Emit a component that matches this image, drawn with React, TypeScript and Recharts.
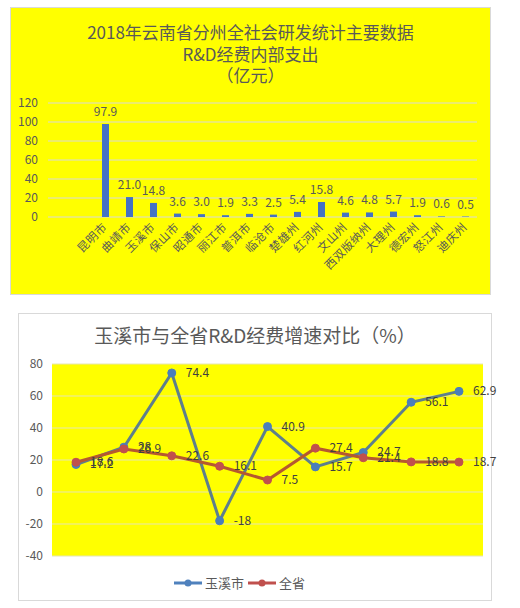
import React from 'react';
import {
  BarChart, Bar, XAxis, YAxis, CartesianGrid, LabelList,
  LineChart, Line, Legend,
} from 'recharts';

// ---- Chart 1 data ----
const regions = ['昆明市', '曲靖市', '玉溪市', '保山市', '昭通市', '丽江市', '普洱市', '临沧市', '楚雄州', '红河州', '文山州', '西双版纳州', '大理州', '德宏州', '怒江州', '迪庆州'];
const rdSpending = [97.9, 21.0, 14.8, 3.6, 3.0, 1.9, 3.3, 2.5, 5.4, 15.8, 4.6, 4.8, 5.7, 1.9, 0.6, 0.5];
const barTicks = [0, 20, 40, 60, 80, 100, 120];

// ---- Chart 2 data ----
const years = ['2010年', '2011年', '2012年', '2013年', '2014年', '2015年', '2016年', '2017年', '2018年'];
const yuxiGrowth = [17.2, 28.0, 74.4, -18, 40.9, 15.7, 24.7, 56.1, 62.9];
const provinceGrowth = [18.6, 26.9, 22.6, 16.1, 7.5, 27.4, 21.4, 18.8, 18.7];
const lineTicks = [-40, -20, 0, 20, 40, 60, 80];

const barData = regions.map((name, i) => ({ name, value: rdSpending[i] }));
const lineData = years.map((year, i) => ({ year, yuxi: yuxiGrowth[i], province: provinceGrowth[i] }));

const FONT = '"Noto Sans CJK SC", "Noto Sans", sans-serif';
const TEXT = '#595959';

const RotatedTick = (props: any) => {
  const { x, y, payload } = props;
  return (
    <g transform={`translate(${x},${y})`}>
      <text x={0} y={0} dy={4} textAnchor="end" transform="rotate(-45)" fontSize={11.5} fill={TEXT} fontFamily={FONT} letterSpacing={0.5}>
        {payload.value}
      </text>
    </g>
  );
};

const YearTick = (props: any) => {
  const { x, y, payload } = props;
  return (
    <text x={x} y={y - 44} textAnchor="middle" fontSize={12} fill={TEXT} fontFamily={FONT}>
      {payload.value}
    </text>
  );
};

const legendItems = [
  { name: '玉溪市', color: '#4F81BD' },
  { name: '全省', color: '#C0504D' },
];

const CustomLegend = () => (
  <div style={{ display: 'flex', justifyContent: 'center', alignItems: 'center', fontFamily: FONT, fontSize: 13, color: TEXT }}>
    {legendItems.map((it) => (
      <div key={it.name} style={{ display: 'flex', alignItems: 'center', marginRight: 4 }}>
        <svg width={28} height={10} style={{ marginRight: 3 }}>
          <line x1={0} y1={5} x2={28} y2={5} stroke={it.color} strokeWidth={3} />
          <circle cx={14} cy={5} r={3.5} fill={it.color} />
        </svg>
        <span>{it.name}</span>
      </div>
    ))}
  </div>
);

const RightLabel = (props: any) => {
  const { x, y, value } = props;
  return (
    <text x={x + 14} y={y + 4} fontSize={12} fill="#404040" fontFamily={FONT}>
      {value}
    </text>
  );
};

export default function App() {
  return (
    <div style={{ position: 'absolute', left: 0, top: 0, width: 520, height: 608, background: '#fff', fontFamily: FONT }}>
      {/* Top chart */}
      <div style={{ position: 'absolute', left: 10, top: 7, width: 479, height: 286, background: '#FFFF00', border: '1px solid #d9d9d9' }} />
      <div style={{ position: 'absolute', left: 10, top: 21, width: 481, textAlign: 'center', fontSize: 17, lineHeight: '21.5px', color: TEXT }}>
        <div>2018年云南省分州全社会研发统计主要数据</div>
        <div>R&amp;D经费内部支出</div>
        <div>（亿元）</div>
      </div>
      <div style={{ position: 'absolute', left: 0, top: 90 }}>
        <BarChart width={500} height={205} data={barData} margin={{ top: 13, right: 23, left: 0, bottom: 0 }}>
          <CartesianGrid vertical={false} stroke="#d9d9d9" />
          <XAxis dataKey="name" interval={0} height={78} tick={<RotatedTick />} tickLine={false} axisLine={false} padding={{ left: 45, right: 0 }} />
          <YAxis domain={[0, 120]} ticks={barTicks} interval={0} width={48} tickLine={false} axisLine={false} tickSize={0} tickMargin={10}
            tick={{ fontSize: 12, fill: TEXT, fontFamily: FONT }} />
          <Bar dataKey="value" fill="#4472C4" barSize={7} isAnimationActive={false}>
            <LabelList dataKey="value" position="top" offset={8} formatter={(v: any) => Number(v).toFixed(1)}
              style={{ fontSize: 12, fill: TEXT, fontFamily: FONT }} />
          </Bar>
        </BarChart>
      </div>

      {/* Bottom chart */}
      <div style={{ position: 'absolute', left: 18, top: 313, width: 472, height: 286, background: '#fff', border: '1px solid #d9d9d9' }} />
      <div style={{ position: 'absolute', left: 18, top: 322, width: 474, textAlign: 'center', fontSize: 19, lineHeight: '26px', color: TEXT }}>
        玉溪市与全省R&amp;D经费增速对比（%）
      </div>
      <div style={{ position: 'absolute', left: 0, top: 313 }}>
        <LineChart width={500} height={288} data={lineData} margin={{ top: 51, right: 17, left: 0, bottom: 20 }}>
          <CartesianGrid vertical={false} stroke="#e6e6b0" fill="#FFFF00" fillOpacity={1} />
          <XAxis dataKey="year" interval={0} tick={<YearTick />} tickLine={false} axisLine={false} height={0} tickSize={0} tickMargin={0}
            padding={{ left: 24, right: 24 }} />
          <YAxis domain={[-40, 80]} ticks={lineTicks} interval={0} width={52} tickLine={false} axisLine={false} tickSize={0} tickMargin={9}
            tick={{ fontSize: 12, fill: TEXT, fontFamily: FONT }} />
          <Legend verticalAlign="bottom" height={25} content={<CustomLegend />} wrapperStyle={{ bottom: 3 }} />
          <Line type="linear" dataKey="yuxi" name="玉溪市" stroke="#5E7F8C" strokeWidth={3}
            dot={{ r: 4, fill: '#4A7EBB', stroke: '#4A7EBB', strokeWidth: 1 }} isAnimationActive={false}>
            <LabelList dataKey="yuxi" content={<RightLabel />} />
          </Line>
          <Line type="linear" dataKey="province" name="全省" stroke="#B5592F" strokeWidth={3}
            dot={{ r: 4, fill: '#C0504D', stroke: '#C0504D', strokeWidth: 1 }} isAnimationActive={false}>
            <LabelList dataKey="province" content={<RightLabel />} />
          </Line>
        </LineChart>
      </div>
    </div>
  );
}
